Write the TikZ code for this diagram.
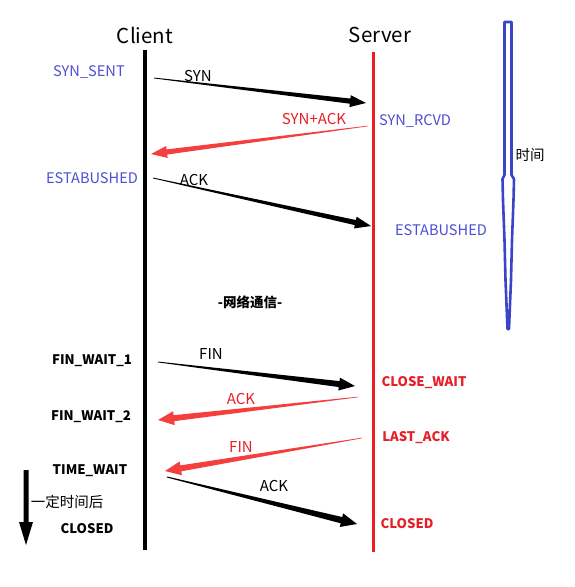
\documentclass[tikz,border=0pt]{standalone}
\usepackage{fontspec}
\setmainfont{Noto Sans CJK SC}
\usetikzlibrary{calc}
\definecolor{stblue}{RGB}{78,78,212}
\definecolor{srvred}{RGB}{237,28,36}
\definecolor{arrred}{RGB}{245,62,62}
\definecolor{txtred}{RGB}{232,30,40}
\definecolor{timeblue}{RGB}{58,68,200}
\newcommand{\taperarrow}[6]{%
  \coordinate (hh) at ($(#2)!16pt!(#1)$);
  \fill[#3] ($(#1)!#4!90:(#2)$) -- ($(hh)!#5!90:(#2)$) -- ($(hh)!#6!90:(#2)$) -- (#2)
    -- ($(hh)!#6!-90:(#2)$) -- ($(hh)!#5!-90:(#2)$) -- ($(#1)!#4!-90:(#2)$) -- cycle;}
\tikzset{
  head/.style={font=\fontsize{20.5}{24}\selectfont, inner sep=0pt},
  bluestate/.style={text=stblue, font=\fontsize{14.6}{17}\selectfont, inner sep=0pt},
  msg/.style={font=\fontsize{15}{17}\selectfont, inner sep=0pt},
  redmsg/.style={text=txtred, font=\fontsize{15}{17}\selectfont, inner sep=0pt},
  boldstate/.style={font=\bfseries\fontsize{13.2}{16}\selectfont, inner sep=0pt},
  redstate/.style={text=txtred, font=\bfseries\fontsize{13.2}{16}\selectfont, inner sep=0pt},
}
\begin{document}
\begin{tikzpicture}[x=1pt,y=-1pt]
\useasboundingbox (0,0) rectangle (574,587);
\fill[white] (0,0) rectangle (574,587);
% headings
\node[head] (client) at (145,35) {Client};
\node[head] (server) at (380,35) {Server};
% lifelines
\coordinate (c0) at (145,50); \coordinate (c1) at (145,550);
\coordinate (s0) at (373,52); \coordinate (s1) at (373,552);
\draw[line width=3.2pt] (c0) -- (c1);
\draw[srvred, line width=3pt] (s0) -- (s1);
% states
\node[bluestate] (synsent) at (89,72) {SYN\_SENT};
\node[bluestate] (synrcvd) at (415,121) {SYN\_RCVD};
\node[bluestate] (est1) at (92,178) {ESTABUSHED};
\node[bluestate] (est2) at (441,230) {ESTABUSHED};
\node[font=\bfseries\fontsize{13.5}{15}\selectfont, inner sep=0pt] (net) at (250,302) {-网络通信-};
\node[boldstate] (fw1) at (92,361) {FIN\_WAIT\_1};
\node[boldstate] (fw2) at (91,417) {FIN\_WAIT\_2};
\node[boldstate] (tw) at (90,471) {TIME\_WAIT};
\node[boldstate] (cl1) at (87,529) {CLOSED};
\node[redstate] (cw) at (424,383) {CLOSE\_WAIT};
\node[redstate] (la) at (416,438) {LAST\_ACK};
\node[redstate] (cl2) at (407,524) {CLOSED};
% message labels
\node[msg] (lsyn) at (198,76) {SYN};
\node[redmsg] (lsynack) at (314,119) {SYN+ACK};
\node[msg] (lack1) at (194,180) {ACK};
\node[msg] (lfin1) at (211,354) {FIN};
\node[redmsg] (lack2) at (241,399) {ACK};
\node[redmsg] (lfin2) at (241,447) {FIN};
\node[msg] (lack3) at (274,486) {ACK};
% message arrows
\coordinate (a1s) at (154,78);  \coordinate (a1e) at (366,103);
\coordinate (a2s) at (368,126); \coordinate (a2e) at (151,154);
\coordinate (a3s) at (153,178); \coordinate (a3e) at (371,226);
\coordinate (a4s) at (158,362); \coordinate (a4e) at (355,386);
\coordinate (a5s) at (358,397); \coordinate (a5e) at (158,420);
\coordinate (a6s) at (362,438); \coordinate (a6e) at (165,471);
\coordinate (a7s) at (167,477); \coordinate (a7e) at (357,524);
\taperarrow{a1s}{a1e}{black}{0.4pt}{2.6pt}{6pt}
\taperarrow{a2s}{a2e}{arrred}{0.3pt}{2.6pt}{6pt}
\taperarrow{a3s}{a3e}{black}{0.4pt}{2.6pt}{6pt}
\taperarrow{a4s}{a4e}{black}{0.4pt}{3pt}{6.5pt}
\taperarrow{a5s}{a5e}{arrred}{0.3pt}{3pt}{7pt}
\taperarrow{a6s}{a6e}{arrred}{0.3pt}{3pt}{7pt}
\taperarrow{a7s}{a7e}{black}{0.5pt}{3.2pt}{7pt}
% after-time arrow
\coordinate (d0) at (26,470); \coordinate (d1) at (26,545);
\fill[black] (23.5,470) -- (28.5,470) -- (28.5,522) -- (33,522) -- (d1) -- (19,522) -- (23.5,522) -- cycle;
\node[font=\fontsize{14.5}{16}\selectfont, inner sep=0pt] (wait) at (67,502) {一定时间后};
% time bar
\draw[timeblue, line width=2.6pt, line join=round]
  (504.5,22) -- (511.5,22) -- (511.5,175) -- (514,179) -- (513.5,200) -- (512,240)
  -- (511,280) -- (509,329) -- (507.5,329) -- (505.5,280) -- (504.5,240) -- (503,200)
  -- (502.5,179) -- (504.5,175) -- cycle;
\node[font=\fontsize{14.5}{16}\selectfont, inner sep=0pt] (time) at (530,155) {时间};
\end{tikzpicture}
\end{document}
